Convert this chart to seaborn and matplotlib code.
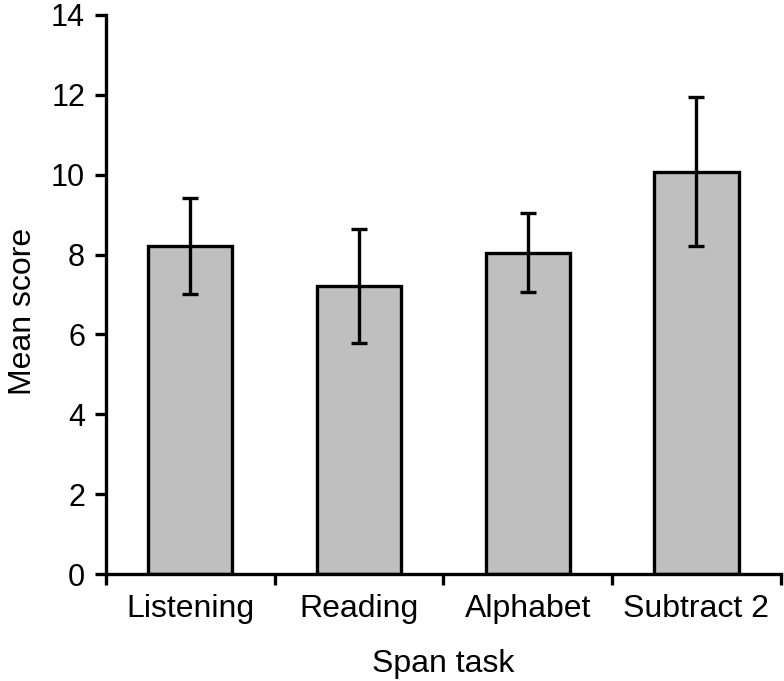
import numpy as np
import pandas as pd
import matplotlib
matplotlib.use("Agg")
import matplotlib.pyplot as plt
import seaborn as sns

# %% data

tasks = ["Listening", "Reading", "Alphabet", "Subtract 2"]
means = [8.21, 7.21, 8.04, 10.06]
err_low = [1.20, 1.43, 0.98, 1.85]    ## mean minus lower whisker
err_high = [1.20, 1.43, 1.00, 1.88]   ## upper whisker minus mean

df = pd.DataFrame({"task": tasks, "score": means})

# %% plot

sns.set_style("ticks")
plt.rcParams['font.family'] = ['Liberation Sans', 'DejaVu Sans']
plt.rcParams['text.color'] = 'black'
plt.rcParams['axes.labelcolor'] = 'black'
plt.rcParams['xtick.color'] = 'black'
plt.rcParams['ytick.color'] = 'black'

fig = plt.figure(figsize=(7.84, 6.81), dpi=100)
ax = fig.add_axes([0.135, 0.157, 0.861, 0.821])

sns.barplot(data=df, x="task", y="score", color="#bfbfbf", saturation=1,
            edgecolor="black", linewidth=2.4, width=0.5, errorbar=None, ax=ax)

ax.errorbar(x=np.arange(len(tasks)), y=means, yerr=[err_low, err_high],
            fmt="none", ecolor="black", elinewidth=2.4, capsize=5.5, capthick=2.4)

ax.set_xlim(-0.5, len(tasks) - 0.5)
ax.set_ylim(0, 14)
ax.set_yticks(range(0, 15, 2))

## ticks on x are between categories, labels stay centered
ax.set_xticks(np.arange(len(tasks)))
ax.set_xticklabels(tasks)
ax.set_xticks(np.arange(-0.5, len(tasks)), minor=True)
ax.tick_params(axis="x", which="major", length=0, pad=14, labelsize=23)
ax.tick_params(axis="x", which="minor", length=8, width=2.4)
ax.tick_params(axis="y", length=8, width=2.4, pad=7, labelsize=22)

ax.set_xlabel("Span task", fontsize=23, labelpad=18)
ax.set_ylabel("Mean score", fontsize=23)
ax.yaxis.set_label_coords(-0.1, 0.469)   ## label sits a bit below the axis middle in the original

for side in ["top", "right"]:
    ax.spines[side].set_visible(False)
for side in ["left", "bottom"]:
    ax.spines[side].set_linewidth(2.4)
    ax.spines[side].set_color("black")

fig.savefig("out.png", dpi=100)
